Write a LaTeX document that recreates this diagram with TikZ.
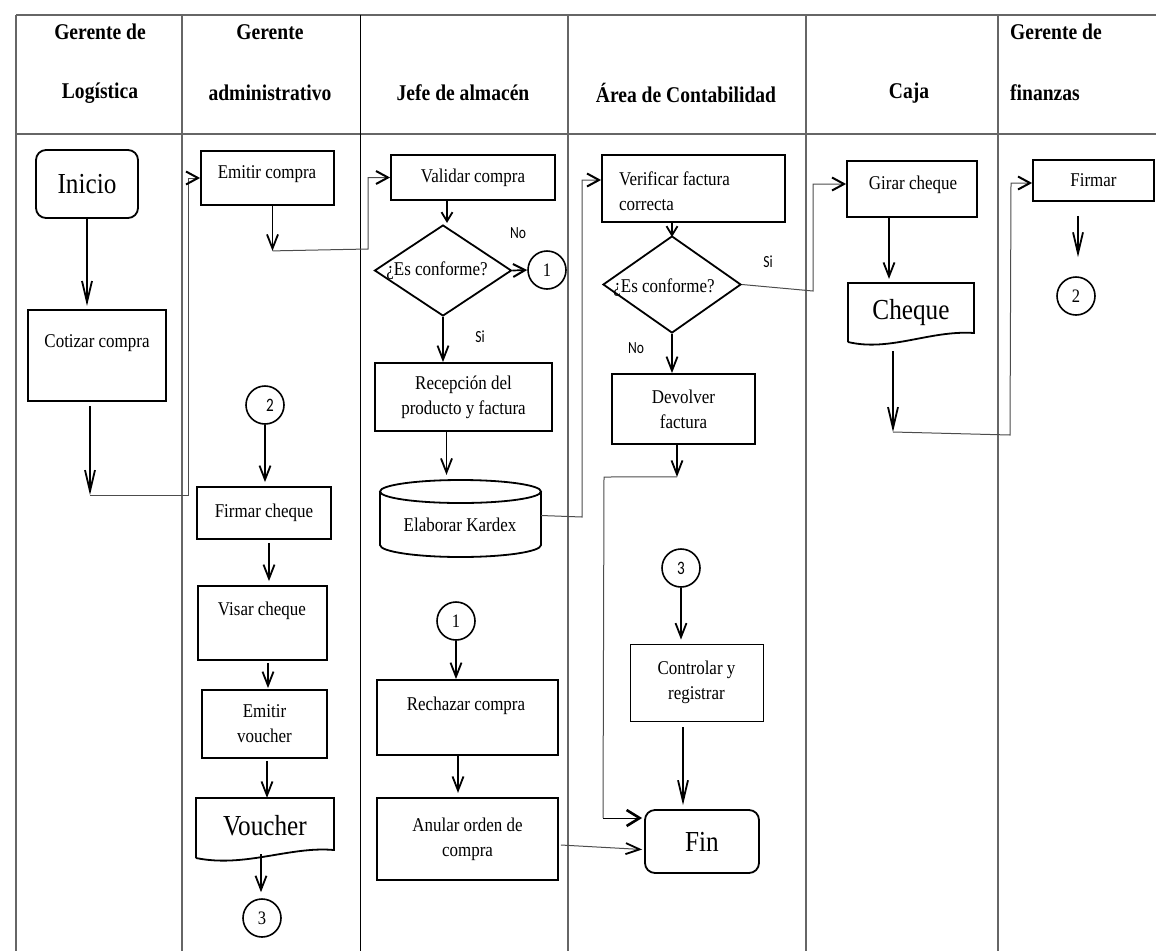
\documentclass[tikz,border=0pt]{standalone}
\usepackage{fontspec}
\setmainfont{Liberation Serif}[FakeStretch=0.87]
\newfontfamily\sansf{Carlito}[FakeStretch=0.8]
\usetikzlibrary{shapes.geometric,arrows.meta,calc}
\begin{document}
\begin{tikzpicture}[x=1pt,y=-1pt,
  lane/.style={draw=black!60, line width=1.3pt},
  hdr/.style={font=\fontsize{22.5}{26}\selectfont\bfseries, inner sep=0},
  box/.style={draw, line width=1.8pt, inner sep=0, align=center, font=\fontsize{19.5}{25}\selectfont},
  txt/.style={font=\fontsize{19.5}{25}\selectfont, align=center, inner sep=0},
  big/.style={font=\fontsize{29}{32}\selectfont, inner sep=0},
  tip/.style={-{Straight Barb[length=14pt,width=11pt,line width=1.8pt,color=black]}},
  ltip/.style={-{Straight Barb[length=21pt,width=10pt,line width=1.8pt,color=black]}},
  stip/.style={-{Straight Barb[length=9pt,width=11pt,line width=1.8pt,color=black]}},
  etip/.style={-{Straight Barb[length=12pt,width=13pt,line width=2pt,color=black]}},
  arr/.style={line width=1.7pt, tip},
  larr/.style={line width=1.7pt, ltip},
  sarr/.style={line width=1.7pt, stip},
  conn/.style={draw=black!70, line width=1pt},
  bigtip/.style={line width=1pt, -{Straight Barb[length=13pt,width=16pt,line width=2.6pt,color=black]}},
  circ/.style={draw, circle, line width=1.6pt, minimum size=38, inner sep=0, font=\fontsize{19}{20}\selectfont},
  lbl/.style={font=\sansf\fontsize{17}{18}\selectfont, inner sep=0},
  dia/.style={diamond, draw, line width=1.8pt, inner sep=0},
]
\useasboundingbox (0,0) rectangle (1156,951);

% table / lanes
\draw[lane] (16,15) -- (1156,15);
\draw[lane] (16,134) -- (1156,134);
\foreach \xx in {16,182,568,806,998} \draw[lane] (\xx,15) -- (\xx,951);
\draw[draw=black, line width=1pt] (360,15) -- (360,951);

% headers
\node[hdr] (h1a) at (100,32) {Gerente de};
\node[hdr] (h1b) at (100,93) {Logística};
\node[hdr] (h2a) at (270,32) {Gerente};
\node[hdr] (h2b) at (270,93) {administrativo};
\node[hdr] (h3) at (463,93) {Jefe de almacén};
\node[hdr] (h4) at (686,93) {Área de Contabilidad};
\node[hdr] (h5) at (909,93) {Caja};
\node[hdr, anchor=west] (h6a) at (1010,32) {Gerente de};
\node[hdr, anchor=west] (h6b) at (1010,93) {finanzas};

% Gerente de Logistica
\node[box, rounded corners=10pt, minimum width=102, minimum height=68, big] (ini) at (87,184) {Inicio};
\node[box, minimum width=138, minimum height=91] (cot) at (97,355.5) {};
\node[txt] (cott) at (97,343) {Cotizar compra};

% Gerente administrativo
\node[box, minimum width=133, minimum height=54] (emi) at (267.5,178) {};
\node[txt] (emit) at (267,174) {Emitir compra};
\node[circ, font=\sansf\fontsize{19}{20}\selectfont] (c2a) at (265,405) {\hspace{10pt}2};
\node[box, minimum width=134, minimum height=52] (fch) at (264,513) {Firmar cheque};
\node[box, minimum width=129, minimum height=74] (vis) at (262.5,623) {};
\node[txt] (vist) at (262,611) {Visar cheque};
\node[box, minimum width=125, minimum height=68] (evo) at (264.5,724) {Emitir\\voucher};
\draw[line width=1.8pt] (196,858) -- (196,798) -- (334,798) -- (334,850) .. controls (290,846) and (245,868) .. (196,858);
\node[big] (vou) at (265,826) {Voucher};
\node[circ] (c3a) at (262,918) {3};

% Jefe de almacen
\node[box, minimum width=164, minimum height=45] (val) at (473,177.5) {Validar compra};
\node[dia, minimum width=137, minimum height=91] (d1) at (443,270.5) {};
\node[txt] (d1t) at (437,271) {¿Es conforme?};
\node[circ] (c1a) at (547,270) {1};
\node[lbl] (no1) at (518,233) {No};
\node[lbl] (si1) at (480,337) {Si};
\node[box, minimum width=177, minimum height=68] (rec) at (463.5,397) {Recepción del\\producto y factura};
\draw[line width=1.8pt] (380,491.5) -- (380,545) arc[start angle=180,end angle=0,x radius=80.5,y radius=12] -- (541,491.5);
\draw[line width=1.8pt] (460.5,491.5) ellipse[x radius=80.5,y radius=11.5];
\node[minimum width=161, minimum height=77, inner sep=0] (cyl) at (460.5,518.5) {};
\node[txt] (cylt) at (460,525) {Elaborar Kardex};
\node[circ] (c1b) at (456,621) {1};
\node[box, minimum width=181, minimum height=75] (rch) at (467.5,717.5) {};
\node[txt] (rcht) at (466,706) {Rechazar compra};
\node[box, minimum width=181, minimum height=82] (anu) at (467.5,839) {Anular orden de\\compra};

% Area de Contabilidad
\node[box, minimum width=183, minimum height=67] (ver) at (693.5,188.5) {};
\node[txt, anchor=west, align=left] (vert) at (619,191) {Verificar factura\\correcta};
\node[dia, minimum width=138, minimum height=97] (d2) at (672,284.5) {};
\node[txt] (d2t) at (664,288) {¿Es conforme?};
\node[lbl] (si2) at (768,262) {Si};
\node[lbl] (no2) at (636,348) {No};
\node[box, minimum width=143, minimum height=70] (dev) at (683.5,409) {Devolver\\factura};
\node[circ, font=\sansf\fontsize{19}{20}\selectfont] (c3b) at (681,568) {3};
\node[box, line width=0.9pt, minimum width=133, minimum height=77] (ctr) at (696.5,682.5) {Controlar y\\registrar};
\node[box, rounded corners=10pt, minimum width=114, minimum height=63, big] (fin) at (702,841.5) {Fin};

% Caja
\node[box, minimum width=130, minimum height=56] (gir) at (912,189) {};
\node[txt] (girt) at (913,185) {Girar cheque};
\draw[line width=1.8pt] (848,342) -- (848,283) -- (974,283) -- (974,333) .. controls (930,330) and (890,352) .. (848,342);
\node[big] (chq) at (911,313) {Cheque};

% Gerente de finanzas
\node[box, minimum width=121, minimum height=41] (fir) at (1093.5,180.5) {Firmar};
\node[circ] (c2b) at (1076,296) {2};

% connectors
\draw[larr] (ini.south) -- ++(0,87);
\coordinate (k1) at (90,495);
\draw[larr] ($(cot.south)+(-7,4)$) -- (k1);
\draw[conn,etip] (k1) -- (188,495) |- (emi.west);
\draw[arr] ($(emi.south)+(5,0)$) -- ++(0,45) coordinate (k2);
\draw[conn,etip] (k2) -- (368,249) |- (val.west);
\draw[sarr] ($(val.south)+(-26,0)$) -- ++(0,22);
\draw[line width=1.7pt, -{Straight Barb[length=12pt,width=13pt,line width=2pt]}] (d1.east) -- (c1a.west);
\draw[arr] (d1.south) -- (d1.south |- rec.north);
\draw[arr] ($(rec.south)+(-17,0)$) -- ++(0,43);
\draw[conn,etip] ($(cyl.east)+(0,-3)$) -- (582,517) -- (582,180) -- ($(ver.west)+(0,-8.5)$);
\draw[sarr] ($(ver.south)+(-21.5,0)$) -- ++(0,14);
\draw[conn,etip] (d2.east) -- (813,291) -- (813,184) -- ($(gir.west)+(0,-5)$);
\draw[arr] (d2.south) -- (d2.south |- dev.north);
\draw[arr] ($(dev.south)+(-6.5,0)$) -- ++(0,32) coordinate (k5);
\draw[conn] (k5) -- (604,477) -- (603,818) coordinate (k7);
\draw[bigtip] (k7) -- ($(fin.west)+(-2,-23.5)$);
\draw[arr] (c3b.south) -- ($(ctr.north)+(-15.5,-4)$);
\draw[larr] ($(ctr.south)+(-13.5,6)$) -- ($(fin.north)+(-19,-4)$);
\draw[conn,tip] ($(anu.east)+(2,6)$) -- ($(fin.west)+(-2,8)$);
\draw[arr] (c2a.south) -- ($(fch.north)+(1,-4)$);
\draw[arr] ($(fch.south)+(5,3)$) -- ($(vis.north)+(6.5,-4)$);
\draw[arr] ($(vis.south)+(5.5,2)$) -- ($(evo.north)+(3.5,-1)$);
\draw[arr] ($(evo.south)+(2.5,2)$) -- ++(0,37);
\draw[arr] ($(vou)+(-4,28)$) -- ($(c3a.north)+(-1,-6)$);
\draw[arr] (c1b.south) -- (c1b.south |- rch.north);
\draw[arr] ($(rch.south)+(-9.5,0)$) -- ++(0,37);
\draw[arr] ($(gir.south)+(-23,0)$) -- ++(0,61);
\draw[larr] ($(chq)+(-18,38)$) -- ++(0,81) coordinate (k6);
\draw[conn,etip] (k6) -- (1010,435) -- (1011,183) -- ($(fir.west)+(0,2.5)$);
\draw[larr] ($(fir.south)+(-15.5,14)$) -- ($(c2b.north)+(2,-19)$);
\end{tikzpicture}
\end{document}
